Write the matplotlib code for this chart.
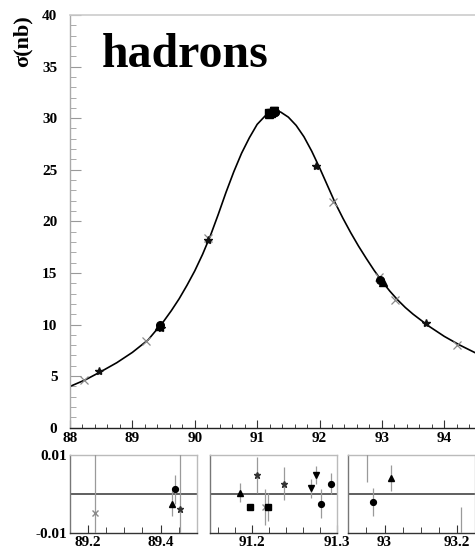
import numpy as np
import matplotlib
matplotlib.use("Agg")
import matplotlib.pyplot as plt
from matplotlib.ticker import MultipleLocator, FixedLocator

plt.rcParams["font.family"] = ["Liberation Serif", "DejaVu Serif"]
plt.rcParams["font.weight"] = "bold"

# ---- fitted hadronic lineshape, sampled (E in GeV, sigma in nb) ----
fit_E = [88.0, 88.25, 88.5, 88.75, 89.0, 89.25, 89.5, 89.625, 89.75,
         89.875, 90.0, 90.125, 90.25, 90.375, 90.5, 90.625, 90.75, 90.875,
         91.0, 91.125, 91.25, 91.375, 91.5, 91.625, 91.75, 91.875, 92.0,
         92.125, 92.25, 92.375, 92.5, 92.625, 92.75, 92.875, 93.0, 93.125,
         93.25, 93.375, 93.5, 93.75, 94.0, 94.25, 94.5]
fit_sigma = [4.0, 4.65, 5.45, 6.3, 7.3, 8.5, 10.3, 11.35, 12.5,
             13.8, 15.2, 16.8, 18.6, 20.65, 22.8, 24.8, 26.6, 28.1,
             29.4, 30.2, 30.65, 30.6, 30.1, 29.3, 28.2, 26.8, 25.2,
             23.5, 21.8, 20.3, 18.9, 17.6, 16.4, 15.25, 14.2, 13.25,
             12.4, 11.65, 11.0, 9.85, 8.85, 8.0, 7.25]

# ---- measured cross sections, one list pair per marker style ----
cross_E = [88.22, 89.22, 90.21, 91.215, 92.21, 92.952, 93.21, 94.2]
cross_sigma = [4.6, 8.4, 18.4, 30.55, 21.9, 14.6, 12.4, 8.0]
star_E = [88.47, 89.455, 90.22, 91.206, 91.238, 91.95, 93.7]
star_sigma = [5.5, 9.7, 18.2, 30.6, 30.7, 25.4, 10.1]
tri_E = [89.432, 91.186, 93.017]
tri_sigma = [9.9, 30.4, 14.1]
circ_E = [89.439, 91.282, 91.293, 92.967]
circ_sigma = [10.0, 30.6, 30.6, 14.3]
sq_E = [91.197, 91.219]
sq_sigma = [30.5, 30.5]
dtri_E = [91.269, 91.275]
dtri_sigma = [30.7, 30.7]

# ---- relative residuals (data - fit) / fit ----
res_cross_E = [89.22, 91.215, 92.952, 93.21]
res_cross = [-0.0049, -0.0033, 0.016, -0.016]
res_cross_err = [0.016, 0.0047, 0.0128, 0.0127]
res_star_E = [89.455, 91.206, 91.238]
res_star = [-0.0038, 0.0049, 0.0027]
res_star_err = [0.015, 0.0047, 0.0043]
res_tri_E = [89.432, 91.186, 93.017]
res_tri = [-0.0024, 0.0004, 0.0042]
res_tri_err = [0.0033, 0.0024, 0.0033]
res_circ_E = [89.439, 91.282, 91.293, 92.967]
res_circ = [0.0012, -0.0024, 0.0027, -0.002]
res_circ_err = [0.0037, 0.0038, 0.0027, 0.0035]
res_sq_E = [91.197, 91.219]
res_sq = [-0.0033, -0.0033]
res_sq_err = [0.0008, 0.0036]
res_dtri_E = [91.269, 91.275]
res_dtri = [0.0015, 0.0049]
res_dtri_err = [0.0024, 0.0022]

panel_ranges = [(89.15, 89.50), (91.15, 91.30), (92.90, 93.25)]
panel_major = [[89.2, 89.4], [91.2, 91.3], [93.0, 93.2]]
panel_minor = [0.05, 0.02, 0.05]
panel_labels = [["89.2", "89.4"], ["91.2", "91.3"], ["93", "93.2"]]

W, H = 475, 552
fig = plt.figure(figsize=(W / 100, H / 100), dpi=100)


def frac(x0, y0, x1, y1):
    return [x0 / W, 1 - y1 / H, (x1 - x0) / W, (y1 - y0) / H]


TICK_FS = 11

# ---------------- main lineshape panel ----------------
ax = fig.add_axes(frac(70, 15, 475.5, 427.7))
ax.plot(fit_E, fit_sigma, color="black", lw=1.2, zorder=2,
        solid_joinstyle="round")
ax.plot(cross_E, cross_sigma, ls="none", marker="x", ms=5.5, mew=0.9,
        color="#8a8a8a", zorder=3)
ax.plot(star_E, star_sigma, ls="none", marker="*", ms=6, color="#111111",
        zorder=4)
ax.plot(tri_E, tri_sigma, ls="none", marker="^", ms=5.5, color="black",
        zorder=4)
ax.plot(circ_E, circ_sigma, ls="none", marker="o", ms=5.5, color="black",
        zorder=4)
ax.plot(sq_E, sq_sigma, ls="none", marker="s", ms=5.5, color="black",
        zorder=4)
ax.plot(dtri_E, dtri_sigma, ls="none", marker="v", ms=5.5, color="black",
        zorder=4)

ax.set_xlim(88, 94.5)
ax.set_ylim(0, 40)
ax.xaxis.set_major_locator(MultipleLocator(1))
ax.xaxis.set_minor_locator(MultipleLocator(0.2))
ax.yaxis.set_major_locator(MultipleLocator(5))
ax.yaxis.set_minor_locator(MultipleLocator(1))
ax.tick_params(axis="x", which="major", direction="in", length=6,
               width=0.8, color="#333333", labelsize=TICK_FS, pad=3)
ax.tick_params(axis="x", which="minor", direction="in", length=3,
               width=0.7, color="#444444")
ax.tick_params(axis="y", which="major", direction="in", length=8,
               width=0.8, color="#999999", labelsize=TICK_FS, pad=9)
ax.tick_params(axis="y", which="minor", direction="in", length=4,
               width=0.7, color="#aaaaaa")
for lab in ax.get_xticklabels() + ax.get_yticklabels():
    lab.set_fontweight("bold")
ax.spines["right"].set_visible(False)
ax.spines["top"].set_color("#cccccc")
ax.spines["top"].set_linewidth(1.2)
ax.spines["left"].set_color("#aaaaaa")
ax.spines["left"].set_linewidth(1.0)
ax.spines["bottom"].set_color("#222222")
ax.spines["bottom"].set_linewidth(1.0)

fig.text(0.048, 1 - 15 / H, "σ(nb)", rotation=90, ha="center", va="top",
         fontsize=16, fontweight="bold")
fig.text(102 / W, 1 - 67 / H, "hadrons", ha="left", va="baseline",
         fontsize=34.5, fontweight="bold")

# ---------------- residual panels ----------------
panel_px = [(70, 196.7), (210, 336.7), (348.3, 475)]
for i, ((x0, x1), rng) in enumerate(zip(panel_px, panel_ranges)):
    r = fig.add_axes(frac(x0, 455, x1, 533.3))
    r.set_xlim(*rng)
    r.set_ylim(-0.01, 0.01)
    r.axhline(0, color="#444444", lw=1.2, zorder=1)

    def draw(E, v, e, marker, ms, mc):
        r.errorbar(E, v, yerr=e, ls="none", marker=marker, ms=ms,
                   color=mc, ecolor="#9a9a9a", elinewidth=0.9, capsize=0,
                   zorder=3)

    draw(res_cross_E, res_cross, res_cross_err, "x", 4, "#8a8a8a")
    draw(res_star_E, res_star, res_star_err, "*", 5, "#333333")
    draw(res_tri_E, res_tri, res_tri_err, "^", 4, "black")
    draw(res_circ_E, res_circ, res_circ_err, "o", 4.2, "black")
    draw(res_sq_E, res_sq, res_sq_err, "s", 4.2, "black")
    draw(res_dtri_E, res_dtri, res_dtri_err, "v", 4.2, "black")

    r.xaxis.set_major_locator(FixedLocator(panel_major[i]))
    r.xaxis.set_minor_locator(MultipleLocator(panel_minor[i]))
    r.set_xticklabels(panel_labels[i])
    r.tick_params(axis="x", which="major", direction="in", length=6,
                  width=0.8, color="#333333", labelsize=TICK_FS, pad=2)
    r.tick_params(axis="x", which="minor", direction="in", length=4,
                  width=0.7, color="#444444")
    if i == 0:
        r.set_yticks([-0.01, 0.01])
        r.set_yticklabels(["-0.01", "0.01"])
        r.tick_params(axis="y", length=0, labelsize=TICK_FS, pad=2)
    else:
        r.set_yticks([])
    for lab in r.get_xticklabels() + r.get_yticklabels():
        lab.set_fontweight("bold")
    r.spines["top"].set_color("#bbbbbb")
    r.spines["right"].set_color("#bbbbbb")
    r.spines["left"].set_color("#777777")
    r.spines["bottom"].set_color("#333333")
    for s in r.spines.values():
        s.set_linewidth(1.0)

fig.savefig("out.png", dpi=100)
